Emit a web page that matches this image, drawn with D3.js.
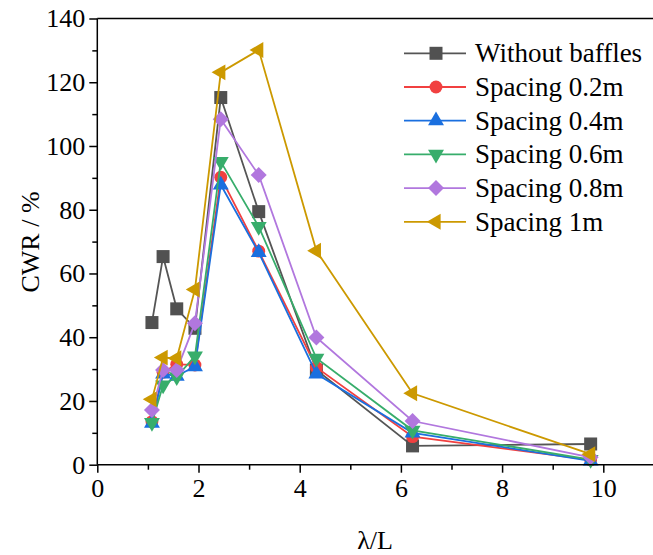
<!DOCTYPE html>
<html>
<head>
<meta charset="utf-8">
<script src="https://cdn.jsdelivr.net/npm/d3@7"></script>
<style>
  html, body { margin: 0; padding: 0; background: #fff; }
  svg { display: block; }
  svg text { font-family: "Liberation Serif", Tinos, "Times New Roman", Times, "Nimbus Roman", "DejaVu Serif", serif !important; fill: #000; }
</style>
</head>
<body>
<svg id="chart" width="653" height="555"></svg>
<script>
// λ/L values shared by every series
const lambdaRatio = [1.08, 1.30, 1.57, 1.93, 2.44, 3.19, 4.33, 6.23, 9.75];

// CWR (%) for each configuration
const withoutBaffles = [44.6, 65.3, 48.9, 42.8, 115.2, 79.4, 29.7, 5.9, 6.5];
const spacing02 = [13.5, 29.0, 31.5, 31.3, 90.2, 67.0, 30.5, 8.8, 1.5];
const spacing04 = [13.0, 28.5, 27.8, 30.8, 87.8, 66.6, 28.5, 10.0, 1.2];
const spacing06 = [13.2, 25.0, 27.6, 34.1, 95.1, 74.7, 33.4, 10.8, 1.6];
const spacing08 = [17.2, 29.7, 29.7, 44.4, 108.4, 90.9, 39.9, 13.7, 2.3];
const spacing1 = [20.5, 33.6, 33.4, 55.0, 123.1, 130.1, 67.1, 22.4, 3.3];

const seriesNames = ["Without baffles", "Spacing 0.2m", "Spacing 0.4m", "Spacing 0.6m", "Spacing 0.8m", "Spacing 1m"];
const seriesValues = [withoutBaffles, spacing02, spacing04, spacing06, spacing08, spacing1];

const xTicks = [0, 2, 4, 6, 8, 10];
const yTicks = [0, 20, 40, 60, 80, 100, 120, 140];

const colors = ["#515151", "#F14040", "#1A6FDF", "#37AD6B", "#B177DE", "#CC9900"];
const lineColors = ["#555555", "#F14040", "#1A6FDF", "#37AD6B", "#B177DE", "#CC9900"];

const serif = '"Liberation Serif", Tinos, "Times New Roman", Times, "Nimbus Roman", "DejaVu Serif", serif';

const svg = d3.select("#chart");
const plotLeft = 97.3, plotRight = 653.9, plotTop = 18.5, plotBottom = 464.7;

const x = d3.scaleLinear().domain([0, 11]).range([plotLeft, plotRight]);
const y = d3.scaleLinear().domain([0, 140]).range([plotBottom, plotTop]);

// marker shapes: square, circle, up / down / left triangles, diamond
function markerPath(kind) {
  switch (kind) {
    case 0: return d3.symbol(d3.symbolSquare, 169)();
    case 1: return d3.symbol(d3.symbolCircle, 130)();
    case 2: case 3: case 5: return d3.symbol(d3.symbolTriangle, 110)();
    case 4: return d3.symbol(d3.symbolSquare, 128)();
  }
}
const markerRotate = [0, 0, 0, 180, 45, -90];

// series lines and markers
const line = d3.line().x(d => x(d[0])).y(d => y(d[1]));
const plot = svg.append("g");
seriesValues.forEach((vals, i) => {
  const pts = lambdaRatio.map((lx, j) => [lx, vals[j]]);
  const g = plot.append("g");
  g.append("path")
    .attr("d", line(pts))
    .attr("fill", "none")
    .attr("stroke", lineColors[i])
    .attr("stroke-width", 1.8);
  g.selectAll("path.mk").data(pts).join("path")
    .attr("class", "mk")
    .attr("d", markerPath(i))
    .attr("transform", d => `translate(${x(d[0])},${y(d[1])}) rotate(${markerRotate[i]})`)
    .attr("fill", colors[i]);
});

// axes
const xAxis = svg.append("g").attr("transform", `translate(0,${plotBottom})`)
  .call(d3.axisBottom(x).tickValues(xTicks).tickSize(8).tickPadding(6).tickFormat(d3.format("d")));
const xMinor = svg.append("g").attr("transform", `translate(0,${plotBottom})`)
  .call(d3.axisBottom(x).tickValues([1, 3, 5, 7, 9]).tickSize(5).tickFormat(""));
const yAxis = svg.append("g").attr("transform", `translate(${plotLeft},0)`)
  .call(d3.axisLeft(y).tickValues(yTicks).tickSize(8).tickPadding(4).tickFormat(d3.format("d")));
const yMinor = svg.append("g").attr("transform", `translate(${plotLeft},0)`)
  .call(d3.axisLeft(y).tickValues([10, 30, 50, 70, 90, 110, 130]).tickSize(5).tickFormat(""));

[xAxis, xMinor, yAxis, yMinor].forEach(a => {
  a.attr("font-family", serif);
  a.select(".domain").remove();
  a.selectAll("line").attr("stroke", "#000").attr("stroke-width", 1.5);
  a.selectAll("text").attr("font-family", serif).attr("font-size", 26).attr("fill", "#000");
});

// frame lines: bottom, left and top
svg.append("line").attr("x1", plotLeft).attr("x2", 653).attr("y1", plotBottom).attr("y2", plotBottom)
  .attr("stroke", "#000").attr("stroke-width", 1.5);
svg.append("line").attr("x1", plotLeft).attr("x2", plotLeft).attr("y1", plotTop).attr("y2", plotBottom)
  .attr("stroke", "#000").attr("stroke-width", 1.5);
svg.append("line").attr("x1", plotLeft).attr("x2", 653).attr("y1", plotTop).attr("y2", plotTop)
  .attr("stroke", "#000").attr("stroke-width", 1.5);

// axis titles
svg.append("text")
  .attr("x", 375).attr("y", 549)
  .attr("text-anchor", "middle")
  .attr("font-family", serif).attr("font-size", 26)
  .text("λ/L");
svg.append("text")
  .attr("transform", "translate(39,242) rotate(-90)")
  .attr("text-anchor", "middle")
  .attr("font-family", serif).attr("font-size", 26)
  .text("CWR / %");

// legend
const legend = svg.append("g");
seriesNames.forEach((name, i) => {
  const cy = 53.3 + i * 33.7;
  legend.append("line")
    .attr("x1", 404).attr("x2", 466).attr("y1", cy).attr("y2", cy)
    .attr("stroke", lineColors[i]).attr("stroke-width", 1.8);
  legend.append("path")
    .attr("d", markerPath(i))
    .attr("transform", `translate(436,${cy}) rotate(${markerRotate[i]})`)
    .attr("fill", colors[i]);
  legend.append("text")
    .attr("x", 475).attr("y", cy + 9)
    .attr("font-family", serif).attr("font-size", 27)
    .text(name);
});
</script>
</body>
</html>
